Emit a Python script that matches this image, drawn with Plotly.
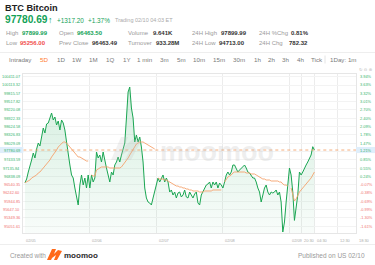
import plotly.graph_objects as go

W, H = 375, 265
FONT = "Liberation Sans, Arial, sans-serif"

# ---------------- data ----------------
base_price = 96607.97          # first price of the 5D window (0 % level)
last_price = 97780.69
last_pct_label = "1.21%"

# price every 0.6 h (36 min) from 02/05
price = [
    96608, 96741, 96992, 97172, 97423, 97674, 97495, 97817, 98033, 97925,
    98320, 98571, 98391, 98714, 98750, 98929, 99109, 98858, 98965, 98678,
    98822, 98499, 98858, 98750, 98499, 98069, 97602, 97243, 96885, 96777,
    96418, 96096, 95809, 96526, 96885, 96526, 96777, 96418, 96885, 96418,
    96885, 96634, 96777, 97710, 97495, 97602, 97351, 97710, 97351, 97136,
    96885, 96634, 96992, 96885, 97243, 97351, 97530, 97351, 97602, 97853,
    98033, 98929, 99862, 100041, 99288, 98929, 98069, 98320, 98069, 98248,
    97889, 97351, 96418, 96060, 95916, 95880, 95809, 96060, 96275, 96526,
    96777, 96634, 96777, 96885, 96634, 96777, 96634, 96275, 96347, 96167,
    96275, 96060, 96239, 96275, 96096, 96167, 96347, 96096, 96060, 96275,
    96167, 96060, 96203, 96275, 95880, 95809, 96167, 96275, 96418, 96526,
    96562, 96634, 96418, 96634, 96526, 96634, 96418, 96598, 96526, 96418,
    96634, 96885, 96992, 96885, 96992, 97243, 97243, 97136, 96992, 97064,
    97136, 97172, 97243, 97136, 96992, 96957, 96885, 96777, 96777, 96634,
    96418, 96275, 95916, 96167, 96418, 96526, 96275, 96167, 96275, 96239,
    96275, 96347, 96167, 96275, 95916, 94840, 95199, 95916, 96526, 97136,
    96885, 96275, 95256, 95701, 96167, 96992, 96885, 96992, 97136, 97243,
    97351, 97495, 97602, 97900, 97780.69,
]

# daily average price (resets every day -> None gaps)
avg_price = [
    96608, 96634, 96669, 96705, 96777, 96813, 96849, 96885, 96957, 96992,
    97064, 97136, 97172, 97243, 97315, 97423, 97530, 97602, 97710, 97782,
    97889, 97961, 98033, 98069, 98069, 98033, 97961, 97889, 97817, 97746,
    97674, 97602, 97530, 97530, 97495, 97459, 97423, 97387, 97387, None,
    96885, 96849, 96849, 97064, 97100, 97136, 97172, 97172, 97172, 97172,
    97172, 97136, 97136, 97136, 97136, 97136, 97136, 97136, 97172, 97243,
    97315, 97387, 97495, 97602, 97710, 97817, 97925, 97997, 98033, 98069,
    98069, 98069, 98033, 97997, 97961, 97925, 97889, 97853, 97817, None,
    96777, 96741, 96741, 96741, 96705, 96705, 96669, 96634, 96598, 96562,
    96526, 96490, 96490, 96454, 96454, 96418, 96418, 96383, 96383, 96347,
    96347, 96311, 96311, 96311, 96311, 96275, 96275, 96275, 96311, 96311,
    96311, 96311, 96311, 96347, 96347, 96347, 96347, 96347, 96347, None,
    96634, 96741, 96813, 96849, 96885, 96957, 96992, 96992, 96992, 96992,
    96992, 96992, 96992, 96957, 96957, 96957, 96921, 96921, 96921, 96885,
    96849, 96813, 96777, 96741, 96741, 96705, 96705, 96705, 96669, 96669,
    96669, 96669, 96669, 96634, 96634, 96562, 96526, 96526, 96490, None,
    96418, 96203, 95952, 96024, 96167, 96275, 96347, 96418, 96490, 96526,
    96598, 96669, 96777, 96885, 96992,
]

hours = [round(0.6 * (i + 1), 2) for i in range(len(price))]

y_tick_values = [100411.07, 100113.32, 99815.57, 99517.82, 99220.08, 98922.33,
                 98624.58, 98326.83, 98029.09, 97731.34, 97433.59, 97135.84,
                 96838.09, 96540.35, 96242.60, 95944.85, 95647.10, 95349.36,
                 95051.61]

x_tick_values = [0, 24, 48, 72, 96, 100.5, 105, 113.5, 120]
x_tick_labels = ["02/05", "02/06", "02/07", "02/08", "02/09",
                 "20:30", "04:30", "12:30", "18:30"]

# ---------------- layout helpers ----------------
X0, X1 = 23.3, 356.0     # plot area in px
Y0, Y1 = 74.0, 233.0
Y_RANGE = [94804, 100508]
X_RANGE = [0, 120]

def px(x):
    return x / W

def py(y):
    return 1 - y / H

GREEN = "#13a257"
RED = "#f04a4a"
TICK_GREEN = "#35b36d"
TICK_RED = "#f07272"
GRAY = "#9a9a9a"
DARK = "#333333"
ORANGE = "#f5a26c"

fig = go.Figure()

# baseline for the gradient fill
fig.add_trace(go.Scatter(x=hours, y=[Y_RANGE[0]] * len(hours), mode="lines",
                         line=dict(width=0, color="rgba(0,0,0,0)"),
                         hoverinfo="skip", showlegend=False))
fig.add_trace(go.Scatter(
    x=hours, y=price, mode="lines", fill="tonexty",
    line=dict(color="#1aa552", width=1),
    fillgradient=dict(type="vertical",
                      colorscale=[[0, "rgba(40,170,95,0.03)"],
                                  [1, "rgba(40,170,95,0.20)"]]),
    hoverinfo="skip", showlegend=False))
fig.add_trace(go.Scatter(x=hours, y=avg_price, mode="lines",
                         line=dict(color=ORANGE, width=0.9),
                         connectgaps=False, hoverinfo="skip", showlegend=False))

annotations = []
shapes = []

def text(x, y, s, size=6, color=GRAY, bold=False, anchor="left", family=FONT):
    if bold:
        s = "<b>" + s + "</b>"
    annotations.append(dict(x=px(x), y=py(y), xref="paper", yref="paper",
                            text=s, showarrow=False, xanchor=anchor,
                            yanchor="middle",
                            font=dict(size=size, color=color, family=family)))

# ---- header ----
text(3, 8.5, "BTC Bitcoin", 9.2, "#222222", bold=True)
text(3, 20, "97780.69", 10.2, GREEN, bold=True)
text(46, 20.5, "↑", 9, GREEN, bold=True)
text(55, 20.5, "+1317.20", 6.4, GREEN)
text(86, 20.5, "+1.37%", 6.4, GREEN)
text(113, 20.5, "Trading 02/10 04:03 ET", 5.5, "#aaaaaa")

row1 = [("High", 4, GRAY, False), ("97899.99", 20, GREEN, True),
        ("Open", 57, GRAY, False), ("96463.50", 75, GREEN, True),
        ("Volume", 126, GRAY, False), ("9.641K", 151, DARK, True),
        ("24H High", 190, GRAY, False), ("97899.99", 219, DARK, True),
        ("24H %Chg", 257, GRAY, False), ("0.81%", 289, DARK, True)]
row2 = [("Low", 4, GRAY, False), ("95256.00", 18, RED, True),
        ("Prev Close", 57, GRAY, False), ("96463.49", 90, DARK, True),
        ("Turnover", 126, GRAY, False), ("933.28M", 154, DARK, True),
        ("24H Low", 190, GRAY, False), ("94713.00", 217, DARK, True),
        ("24H Chg", 257, GRAY, False), ("782.32", 287, DARK, True)]
for s, x, c, b in row1:
    text(x, 33.5, s, 6, c, bold=b)
for s, x, c, b in row2:
    text(x, 43, s, 6, c, bold=b)

shapes.append(dict(type="line", xref="paper", yref="paper", x0=0, x1=1,
                   y0=py(52.5), y1=py(52.5), line=dict(color="#eeeeee", width=1)))

tabs = ["Intraday", "5D", "1D", "1W", "1M", "1Q", "1Y", "1 min", "3m", "5m",
        "10m", "15m", "30m", "1h", "2h", "3h", "4h", "Tick", "1Day: 1m"]
tab_x = [7, 38, 55, 70, 87, 104, 121, 135, 158, 175, 191, 211, 231, 252, 266,
         280, 295, 309, 328]
for s, x in zip(tabs, tab_x):
    text(x, 59.5, s, 6.2, "#ff7a2f" if s == "5D" else "#7a7a7a")
shapes.append(dict(type="line", xref="paper", yref="paper", x0=px(325), x1=px(325),
                   y0=py(55.5), y1=py(63.5), line=dict(color="#dddddd", width=0.8)))
text(357, 69.5, "↻ ⊖ ⊕", 4.2, "#bbbbbb", family="DejaVu Sans")

# ---- y tick labels (left price, right percent) ----
step = abs(y_tick_values[0] - y_tick_values[1])
for v in y_tick_values:
    if abs(v - last_price) < step * 0.5:
        continue
    c = TICK_GREEN if v >= base_price else TICK_RED
    pct = (v / base_price - 1) * 100
    annotations.append(dict(x=px(X0 - 1), y=v, xref="paper", yref="y",
                            text=f"{v:.2f}", showarrow=False, xanchor="right",
                            yanchor="middle", font=dict(size=3.9, color=c, family=FONT)))
    annotations.append(dict(x=px(X1 + 2), y=v, xref="paper", yref="y",
                            text=f"{pct:.2f}%", showarrow=False, xanchor="left",
                            yanchor="middle", font=dict(size=3.9, color=c, family=FONT)))

# current price highlight
shapes.append(dict(type="rect", xref="paper", yref="y", x0=0, x1=px(X0),
                   y0=last_price - 110, y1=last_price + 110,
                   fillcolor="#dfeefb", line=dict(width=0), layer="above"))
shapes.append(dict(type="rect", xref="paper", yref="y", x0=px(X1), x1=1,
                   y0=last_price - 110, y1=last_price + 110,
                   fillcolor="#dfeefb", line=dict(width=0), layer="above"))
annotations.append(dict(x=px(X0 - 1), y=last_price, xref="paper", yref="y",
                        text=f"{last_price:.2f}", showarrow=False, xanchor="right",
                        yanchor="middle", font=dict(size=3.9, color=TICK_GREEN, family=FONT)))
annotations.append(dict(x=px(X1 + 2), y=last_price, xref="paper", yref="y",
                        text=last_pct_label, showarrow=False, xanchor="left",
                        yanchor="middle", font=dict(size=3.9, color=TICK_GREEN, family=FONT)))
shapes.append(dict(type="line", xref="x", yref="y", x0=X_RANGE[0], x1=X_RANGE[1],
                   y0=last_price, y1=last_price,
                   line=dict(color="#f3a46e", width=0.9, dash="dot")))

# ---- x tick labels (left aligned at the grid lines) ----
for v, s in zip(x_tick_values, x_tick_labels):
    annotations.append(dict(x=v, y=py(240), xref="x", yref="paper", text=s,
                            showarrow=False, xanchor="left", yanchor="middle",
                            xshift=0.5,
                            font=dict(size=3.9, color="#aaaaaa", family=FONT)))

# ---- watermark ----
def path(points):
    d = "M " + " L ".join(f"{px(a):.5f},{py(b):.5f}" for a, b in points) + " Z"
    return d

shapes.append(dict(type="path", xref="paper", yref="paper",
                   path=path([(111, 160), (121, 137), (128, 137), (124, 147),
                              (133, 139), (141, 141), (131, 160), (125, 160),
                              (130, 149), (121, 156), (118, 160)]),
                   fillcolor="rgba(190,190,190,0.22)", line=dict(width=0)))
text(158, 152, "moomoo", 27, "rgba(190,190,190,0.25)", bold=True)

# ---- footer ----
shapes.append(dict(type="line", xref="paper", yref="paper", x0=0, x1=1,
                   y0=py(244.5), y1=py(244.5), line=dict(color="#eeeeee", width=1)))
text(8, 255, "Created with", 6.4, "#999999")
shapes.append(dict(type="path", xref="paper", yref="paper",
                   path=path([(47, 260), (52, 249), (56, 249), (54, 254),
                              (58, 250), (62, 251), (57, 260), (54, 260),
                              (56, 255), (52, 258), (51, 260)]),
                   fillcolor="#ff6a1a", line=dict(width=0)))
text(62, 255, "moomoo", 8, "#2b2b2b", bold=True)
text(367, 255, "Published on US 02/10", 6.5, "#999999", anchor="right")

fig.update_layout(
    width=W, height=H, autosize=False,
    margin=dict(l=0, r=0, t=0, b=0),
    paper_bgcolor="white", plot_bgcolor="white",
    showlegend=False,
    xaxis=dict(domain=[px(X0), px(X1)], range=X_RANGE, tickvals=x_tick_values,
               showticklabels=False, showgrid=True, gridcolor="#ececec",
               gridwidth=0.8, zeroline=False, showline=True, linecolor="#e6e6e6",
               linewidth=0.8, mirror=True, ticks=""),
    yaxis=dict(domain=[1 - Y1 / H, 1 - Y0 / H], range=Y_RANGE,
               tickvals=y_tick_values, showticklabels=False, showgrid=True,
               gridcolor="#f3f3f3", gridwidth=0.6, zeroline=False, showline=True,
               linecolor="#e6e6e6", linewidth=0.8, mirror=True, ticks=""),
    annotations=annotations,
    shapes=shapes,
)

fig.write_html("out.html")
